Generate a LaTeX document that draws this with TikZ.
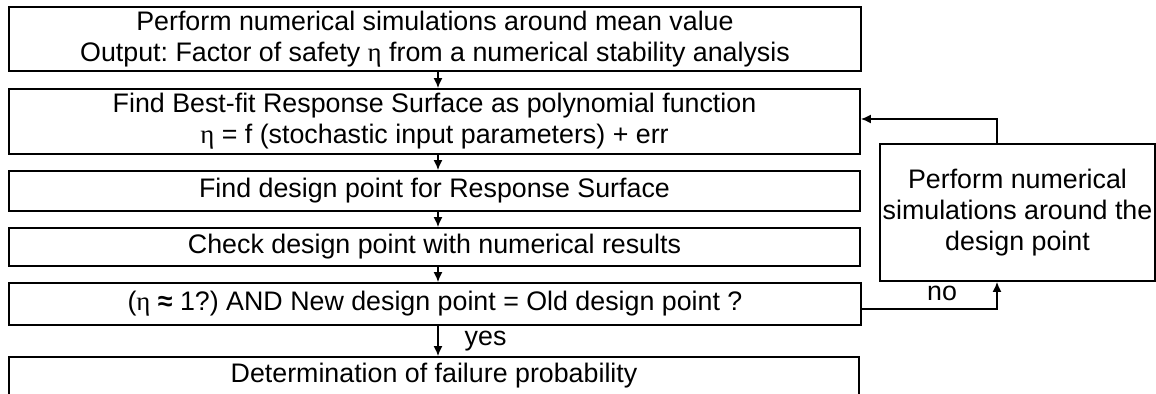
\documentclass[tikz,border=0pt]{standalone}
\usepackage{fontspec}
\setmainfont{Liberation Sans}
\newfontfamily\grk{Liberation Serif}
\usepackage{tikz}
\usetikzlibrary{arrows.meta,positioning,calc}

\newcommand{\etasym}{{\grk η}}
\frenchspacing

\begin{document}
\begin{tikzpicture}[x=0.5pt,y=-0.5pt,
    box/.style={draw, line width=0.95pt, inner sep=0pt, align=center,
        font=\fontsize{13.4}{15.5}\selectfont},
    arr/.style={line width=0.7pt, -{Latex[length=5pt,width=4.5pt]}},
    lbl/.style={font=\fontsize{13.4}{15.5}\selectfont, inner sep=0pt}]
    \useasboundingbox (0,0) rectangle (1156,394);

    % main column of steps
    \node[box, minimum width=426pt, minimum height=32pt] (b1) at (435,39)
        {Perform numerical simulations around mean value\\
         Output: Factor of safety \etasym{} from a numerical stability analysis};
    \node[box, minimum width=425.5pt, minimum height=32.5pt] (b2) at (434.5,121.5)
        {Find Best-fit Response Surface as polynomial function\\
         \etasym{} = f (stochastic input parameters) + err};
    \node[box, minimum width=425.5pt, minimum height=20pt] (b3) at (434.5,191)
        {Find design point for Response Surface};
    \node[box, minimum width=425.5pt, minimum height=19pt] (b4) at (434.5,247)
        {Check design point with numerical results};
    \node[box, minimum width=426pt, minimum height=21pt] (b5) at (435,304)
        {(\etasym{} \textbf{≈} 1?) AND New design point = Old design point ?};
    \node[box, minimum width=425pt, minimum height=19pt] (b6) at (434,376)
        {Determination of failure probability};

    % side loop
    \node[box, minimum width=137.5pt, minimum height=68.5pt] (sim) at (1017.5,212.5)
        {Perform numerical\\ simulations around the\\ design point};

    \draw[arr] ($(b1.south)+(3,0)$) -- ($(b2.north)+(3.5,0)$);
    \draw[arr] ($(b2.south)+(3.5,0)$) -- ($(b3.north)+(3.5,0)$);
    \draw[arr] ($(b3.south)+(3.5,0)$) -- ($(b4.north)+(3.5,0)$);
    \draw[arr] ($(b4.south)+(3.5,0)$) -- ($(b5.north)+(3,0)$);
    \draw[arr] ($(b5.south)+(3,0)$) -- ($(b6.north)+(4,0)$)
        node[lbl, midway, right=13pt] (yes) {yes};

    \coordinate (up) at (997,119);
    \coordinate (dn) at (997,309);
    \draw[arr] (sim.north -| up) -- (up) -- (b2.east |- up);
    \draw[arr] (b5.east |- dn) -- (dn) -- (sim.south -| dn);
    \node[lbl] (no) at (942,293) {no};
\end{tikzpicture}
\end{document}
